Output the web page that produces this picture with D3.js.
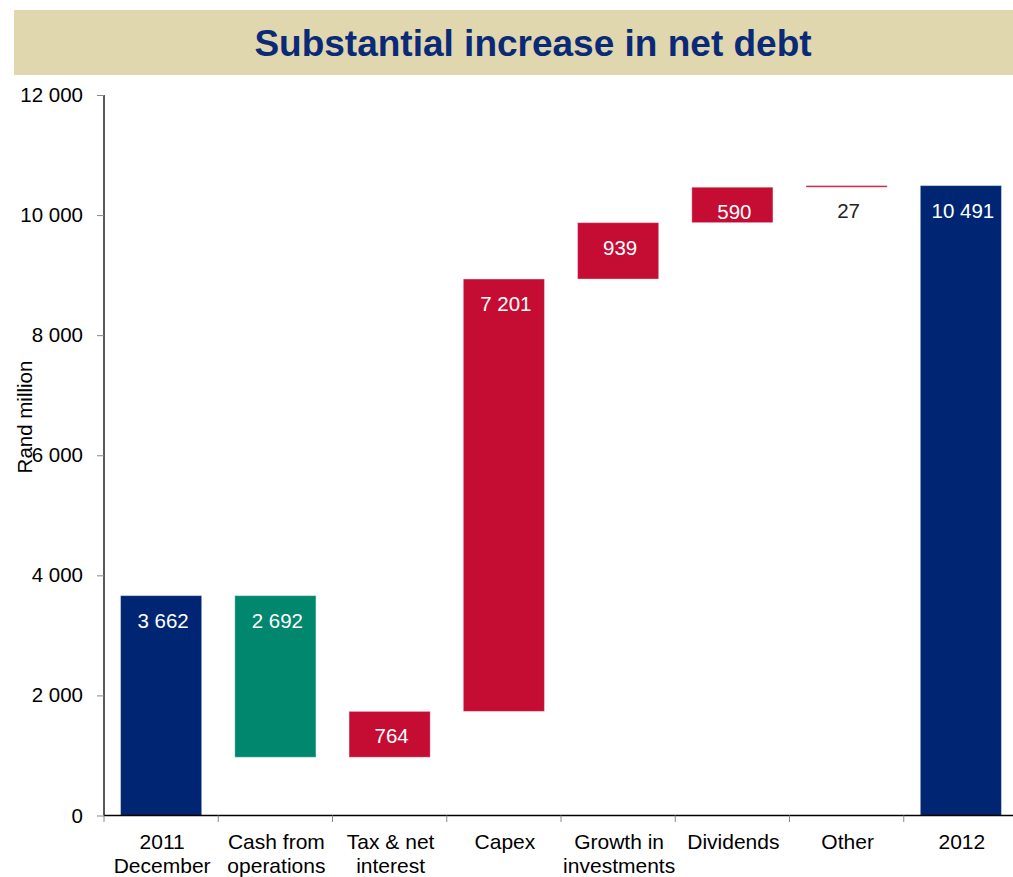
<!DOCTYPE html>
<html>
<head>
<meta charset="utf-8">
<script src="https://cdn.jsdelivr.net/npm/d3@7"></script>
<style>
  html, body { margin: 0; padding: 0; background: #fff; }
  svg { display: block; font-family: "Liberation Sans", Arial, sans-serif; }
</style>
</head>
<body>
<svg id="chart" width="1013" height="877"></svg>
<script>
// Net debt bridge, Rand million
const categories = ["2011\nDecember", "Cash from\noperations", "Tax & net\ninterest", "Capex",
                    "Growth in\ninvestments", "Dividends", "Other", "2012"];
const values = [3662, -2692, 764, 7201, 939, 590, 27, 10491];
const kinds = ["total", "decrease", "increase", "increase", "increase", "increase", "increase", "total"];
const yTicks = [0, 2000, 4000, 6000, 8000, 10000, 12000];

const colors = { total: "#002673", decrease: "#00876D", increase: "#C50C33" };

// running totals for the floating segments
let running = 0;
const bars = categories.map((c, i) => {
  const v = values[i];
  let y0, y1;
  if (kinds[i] === "total") { y0 = 0; y1 = v; running = v; }
  else { y0 = running; y1 = running + v; running = y1; }
  return { cat: c, value: v, kind: kinds[i], lo: Math.min(y0, y1), hi: Math.max(y0, y1) };
});

const svg = d3.select("#chart");
const fmt = d3.formatLocale({ decimal: ".", thousands: " ", grouping: [3], currency: ["", ""] }).format(",d");

// title banner
svg.append("rect").attr("x", 14).attr("y", 10).attr("width", 999).attr("height", 65).attr("fill", "#E0D7AF");
svg.append("text").attr("x", 533).attr("y", 56).attr("text-anchor", "middle")
  .attr("font-size", 37).attr("font-weight", "bold").attr("fill", "#0A2A78")
  .text("Substantial increase in net debt");

const x = d3.scaleBand().domain(categories).range([104, 1018]).paddingInner(0.29).paddingOuter(0.145);
const y = d3.scaleLinear().domain([0, 12000]).range([815.5, 95]);

// bars
svg.append("g").selectAll("rect").data(bars).join("rect")
  .attr("x", d => x(d.cat))
  .attr("width", x.bandwidth())
  .attr("y", d => y(d.hi))
  .attr("height", d => Math.max(1.5, y(d.lo) - y(d.hi)))
  .attr("fill", d => colors[d.kind])
  .attr("stroke", "#ffffff").attr("stroke-opacity", 0.35).attr("stroke-width", 1);

// value labels
svg.append("g").selectAll("text").data(bars).join("text")
  .attr("x", d => x(d.cat) + x.bandwidth() / 2 + 2)
  .attr("y", d => y(d.hi) + 32)
  .attr("text-anchor", "middle")
  .attr("font-size", 20.5)
  .attr("fill", d => (y(d.lo) - y(d.hi) < 30 && d.kind !== "total" && d.value < 100) ? "#222" : "#fff")
  .text(d => fmt(Math.abs(d.value)));

// y axis
const yAxis = svg.append("g").attr("transform", "translate(104,0)")
  .call(d3.axisLeft(y).tickValues(yTicks).tickSize(7).tickPadding(14).tickFormat(fmt));
yAxis.select(".domain").attr("stroke", "#000").attr("stroke-width", 1.3).attr("d", "M0,95V815.5");
yAxis.selectAll(".tick line").attr("stroke", "#888");
yAxis.selectAll(".tick text").attr("font-size", 20.5).attr("fill", "#000")
  .attr("font-family", "Liberation Sans, Arial, sans-serif");

// x axis
const boundaries = categories.map(c => x(c) - x.step() * x.paddingInner() / 2);
const xg = svg.append("g");
xg.append("line").attr("x1", 104).attr("x2", 1013).attr("y1", 815.5).attr("y2", 815.5)
  .attr("stroke", "#000").attr("stroke-width", 1.3);
xg.selectAll("line.tk").data(boundaries).join("line").attr("class", "tk")
  .attr("x1", d => d).attr("x2", d => d).attr("y1", 815.5).attr("y2", 822)
  .attr("stroke", "#888");
xg.selectAll("text.cat").data(categories).join("text").attr("class", "cat")
  .attr("text-anchor", "middle").attr("font-size", 21).attr("fill", "#000")
  .attr("transform", d => `translate(${x(d) + x.bandwidth() / 2 + 1},849)`)
  .each(function (d) {
    d3.select(this).selectAll("tspan").data(d.split("\n")).join("tspan")
      .attr("x", 0).attr("dy", (t, i) => i === 0 ? 0 : 24).text(t => t);
  });

// axis title
svg.append("text").attr("transform", "translate(32,417) rotate(-90)")
  .attr("text-anchor", "middle").attr("font-size", 20.5).attr("fill", "#000")
  .text("Rand million");
</script>
</body>
</html>
